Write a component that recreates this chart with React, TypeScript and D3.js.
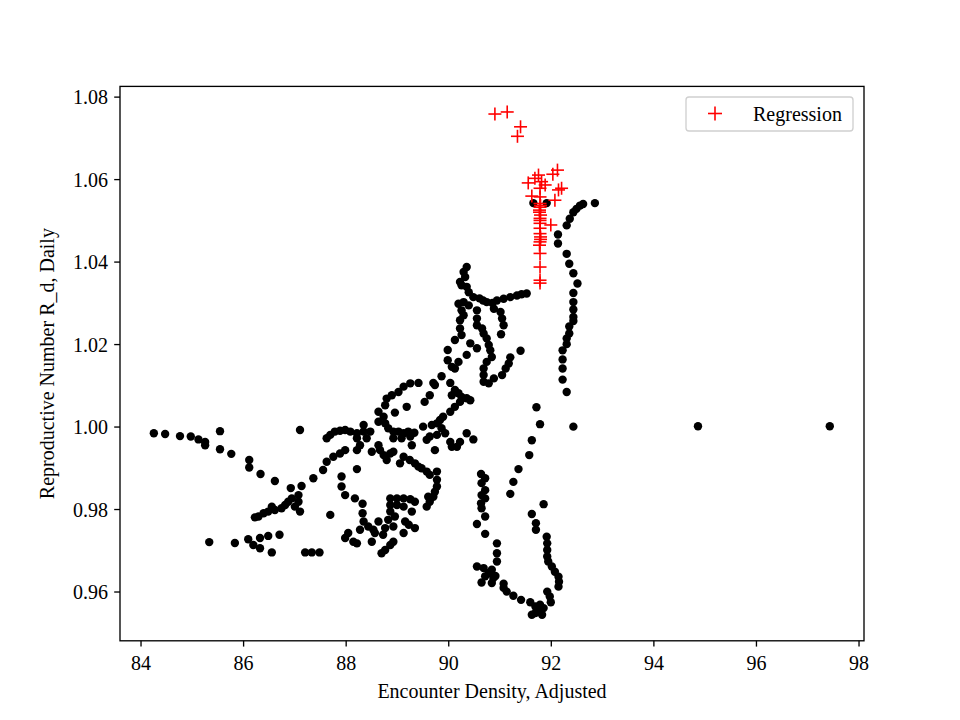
import React from "react";
import * as d3 from "d3";

const dotX = [
  84.25, 84.47, 84.76, 84.97, 85.12, 85.25, 85.25, 85.54, 85.54, 85.76, 86.11, 86.11, 86.33, 86.61, 86.92, 87.10,
  87.13, 87.07, 86.94, 86.87, 86.81, 87.00, 87.10, 86.74, 86.61, 86.55, 86.48, 86.39, 86.29, 86.22, 87.07,
  85.33, 85.83, 86.09, 86.19, 86.32, 86.32, 86.48, 86.55, 86.70,
  87.36, 87.55, 87.62, 87.75, 87.88, 87.98, 88.21, 88.27, 88.21, 87.62, 87.69, 87.78, 87.88, 87.98, 88.08, 88.21, 88.34, 88.40, 88.34,
  87.69, 87.20, 87.33, 87.48,
  87.91, 87.91, 87.98, 88.17, 88.32, 88.32, 88.34, 88.43, 88.63, 88.53, 88.56, 88.50, 88.27, 88.04, 87.98, 88.14, 88.21,
  88.72, 88.76, 88.82, 88.86, 88.86, 88.86, 88.99, 89.12, 89.25, 89.34, 89.28, 89.12, 88.99, 88.95, 89.15, 89.22, 89.34, 89.12, 88.92,
  88.92, 88.86, 88.76, 88.69, 88.21, 89.60,
  89.57, 89.63, 89.70, 89.73, 89.77, 89.77, 89.63, 89.77, 89.57, 89.47, 89.41, 89.34, 89.24, 89.12, 89.05, 88.92, 88.86, 88.79, 88.73,
  88.66, 88.63, 88.50, 89.28,
  88.47, 88.92, 89.02, 89.12, 89.21, 89.25, 89.08, 88.92, 89.33, 88.82, 88.76, 88.63, 88.73, 88.63, 88.76, 88.79, 88.89, 89.02, 89.12,
  89.25, 89.41, 88.95, 89.18, 89.70, 89.86, 90.03, 89.73, 89.63, 89.53, 90.06, 90.12, 90.03, 89.89, 89.83, 89.77, 89.67, 89.50, 89.86,
  89.93, 89.77, 89.63, 89.57, 90.03, 89.73, 90.16, 90.06,
  90.12, 90.19, 90.25, 90.35, 90.42, 90.22,
  89.98, 89.98, 90.06, 90.12, 90.19, 90.35, 90.42, 90.55, 90.12, 90.25, 90.22, 90.22, 90.29, 90.25, 90.19, 90.29, 90.39,
  90.35, 90.29, 90.32, 90.22, 90.25, 90.35, 90.39, 90.48, 90.60, 90.67, 90.74, 90.85, 90.94, 91.07, 91.20, 91.33, 91.42, 91.52,
  90.55, 90.55, 90.55, 90.65, 90.68, 90.74, 90.78, 90.81, 90.84, 90.74, 90.68, 90.68, 90.68, 90.78, 90.88, 91.04, 91.11, 91.17,
  91.20, 91.40, 90.88, 91.01, 91.04, 91.07, 91.02,
  91.65, 91.91, 92.85, 92.62, 92.56, 92.49, 92.43, 92.36, 92.30, 92.13, 92.13, 92.30, 92.35, 92.43, 92.51, 92.43, 92.43, 92.43,
  92.43, 92.43, 92.35, 92.35, 92.30, 92.30, 92.22, 92.22, 92.22, 92.22, 92.30, 91.71, 91.78, 92.43,
  91.62, 91.57, 91.36, 91.26, 91.20, 91.85, 91.62, 91.70, 91.70, 90.35, 90.48, 90.22,
  90.63, 90.71, 90.64, 90.71, 90.64, 90.71, 90.63, 90.64, 90.71, 90.55, 90.71, 90.94, 90.94, 90.94,
  90.55, 90.68, 90.78, 90.84, 90.71, 90.87, 90.64, 90.84, 90.91, 91.07, 91.07, 91.13, 91.26, 91.41, 91.59, 91.69, 91.75, 91.69,
  91.85, 91.82, 91.62, 91.78,
  91.91, 91.92, 91.92, 91.92, 91.94, 92.01, 92.07, 92.14, 92.15, 92.14, 91.92, 91.97, 91.99,
  94.86, 97.43,
];

const dotY = [
  0.9985, 0.9983, 0.9978, 0.9977, 0.9970, 0.9964, 0.9956, 0.9990, 0.9946, 0.9935, 0.9920, 0.9902, 0.9886, 0.9869, 0.9852, 0.9993,
  0.9857, 0.9835, 0.9827, 0.9819, 0.9811, 0.9807, 0.9795, 0.9803, 0.9799, 0.9807, 0.9795, 0.9791, 0.9783, 0.9781, 0.9819,
  0.9721, 0.9719, 0.9728, 0.9714, 0.9731, 0.9706, 0.9736, 0.9696, 0.9739,
  0.9876, 0.9896, 0.9916, 0.9928, 0.9936, 0.9944, 0.9944, 0.9956, 0.9973, 0.9973, 0.9981, 0.9989, 0.9991, 0.9993, 0.9989, 0.9985, 0.9989, 0.9973, 1.0005,
  0.9787, 0.9696, 0.9696, 0.9696,
  0.9880, 0.9856, 0.9835, 0.9827, 0.9814, 0.9791, 0.9771, 0.9759, 0.9771, 0.9751, 0.9743, 0.9722, 0.9751, 0.9743, 0.9731, 0.9722, 0.9718,
  0.9739, 0.9755, 0.9775, 0.9795, 0.9811, 0.9827, 0.9827, 0.9827, 0.9825, 0.9819, 0.9795, 0.9807, 0.9811, 0.9783, 0.9771, 0.9763, 0.9755, 0.9743, 0.9759,
  0.9722, 0.9714, 0.9702, 0.9694, 0.9898, 0.9831,
  0.9807, 0.9819, 0.9831, 0.9843, 0.9856, 0.9872, 0.9884, 0.9892, 0.9892, 0.9900, 0.9904, 0.9912, 0.9920, 0.9928, 0.9912, 0.9940, 0.9936, 0.9920, 0.9932,
  0.9944, 0.9956, 0.9940, 0.9956,
  0.9989, 0.9989, 0.9989, 0.9985, 0.9989, 0.9977, 0.9973, 0.9973, 0.9986, 0.9997, 1.0009, 1.0013, 1.0025, 1.0037, 1.0053, 1.0069, 1.0077, 1.0085, 1.0098,
  1.0106, 1.0107, 1.0035, 1.0049, 1.0107, 1.0123, 1.0107, 1.0102, 1.0077, 1.0061, 1.0077, 1.0049, 1.0037, 1.0025, 1.0017, 1.0009, 1.0005, 1.0001, 0.9997,
  0.9985, 0.9981, 0.9977, 0.9969, 0.9964, 0.9944, 0.9952, 0.9952,
  1.0090, 1.0082, 1.0073, 1.0070, 1.0065, 1.0061,
  1.0187, 1.0162, 1.0146, 1.0142, 1.0158, 1.0175, 1.0203, 1.0191, 1.0211, 1.0223, 1.0239, 1.0259, 1.0271, 1.0283, 1.0299, 1.0303, 1.0295,
  1.0388, 1.0376, 1.0364, 1.0352, 1.0344, 1.0340, 1.0327, 1.0315, 1.0312, 1.0307, 1.0303, 1.0301, 1.0307, 1.0311, 1.0315, 1.0319, 1.0322, 1.0324,
  1.0283, 1.0263, 1.0247, 1.0239, 1.0227, 1.0215, 1.0199, 1.0186, 1.0170, 1.0158, 1.0142, 1.0126, 1.0110, 1.0106, 1.0118, 1.0126, 1.0142, 1.0154,
  1.0169, 1.0185, 1.0287, 1.0279, 1.0263, 1.0247, 1.0225,
  1.0543, 1.0543, 1.0543, 1.0541, 1.0537, 1.0529, 1.0521, 1.0505, 1.0489, 1.0467, 1.0445, 1.0420, 1.0396, 1.0373, 1.0348, 1.0325, 1.0303, 1.0285,
  1.0267, 1.0257, 1.0244, 1.0227, 1.0215, 1.0201, 1.0186, 1.0164, 1.0142, 1.0115, 1.0085, 1.0048, 1.0007, 1.0001,
  0.9968, 0.9932, 0.9898, 0.9867, 0.9838, 0.9813, 0.9789, 0.9767, 0.9751, 0.9985, 0.9970, 0.9964,
  0.9886, 0.9876, 0.9864, 0.9847, 0.9835, 0.9827, 0.9815, 0.9803, 0.9783, 0.9765, 0.9741, 0.9718, 0.9694, 0.9674,
  0.9662, 0.9658, 0.9646, 0.9654, 0.9638, 0.9634, 0.9623, 0.9622, 0.9639, 0.9620, 0.9610, 0.9601, 0.9591, 0.9581, 0.9575, 0.9565, 0.9557, 0.9549,
  0.9561, 0.9545, 0.9545, 0.9569,
  0.9734, 0.9718, 0.9702, 0.9686, 0.9674, 0.9662, 0.9649, 0.9637, 0.9625, 0.9613, 0.9601, 0.9589, 0.9575,
  1.0002, 1.0002,
];

const regX = [
  90.90, 91.14, 91.40, 91.34, 92.12, 92.03, 91.75, 91.68, 91.55, 91.81, 91.88, 91.78, 92.14, 92.20, 91.62, 92.07, 91.78, 91.99,
  91.78, 91.77, 91.79, 91.78, 91.78, 91.78, 91.79, 91.78, 91.77, 91.78, 91.78, 91.78, 91.78,
  91.79, 91.78, 91.77, 91.78, 91.78, 91.79,
];
const regY = [
  1.0759, 1.0764, 1.0728, 1.0705, 1.0623, 1.0613, 1.0611, 1.0603, 1.0592, 1.0595, 1.0587, 1.0579, 1.0575, 1.0579, 1.0560, 1.0550, 1.0558, 1.0490,
  1.0542, 1.0526, 1.0514, 1.0506, 1.0482, 1.0469, 1.0461, 1.0449, 1.0441, 1.0421, 1.0388, 1.0356, 1.0349,
  1.0537, 1.0533, 1.0521, 1.0501, 1.0494, 1.0455,
];

const xTicks = [84, 86, 88, 90, 92, 94, 96, 98];
const yTicks = [0.96, 0.98, 1.0, 1.02, 1.04, 1.06, 1.08];

const W = 960, H = 720;
const L = 120, R = 864, T = 86.4, B = 640.8;
const FONT = "'Liberation Serif', 'Times New Roman', serif";
const FS = 20;

export default function App() {
  const x = d3.scaleLinear().domain([83.59, 98.097]).range([L, R]);
  const y = d3.scaleLinear().domain([0.94817, 1.0826]).range([B, T]);
  const cs = 6.5;
  return (
    <svg width={W} height={H} style={{ position: "absolute", left: 0, top: 0, background: "#fff" }} fontFamily={FONT}>
      <rect x={0} y={0} width={W} height={H} fill="#fff" />
      <g>
        {dotX.map((v, i) => (
          <circle key={"d" + i} cx={x(v)} cy={y(dotY[i])} r={4.2} fill="#000" />
        ))}
      </g>
      <g stroke="red" strokeWidth={1.6}>
        {regX.map((v, i) => {
          const px = x(v), py = y(regY[i]);
          return (
            <g key={"r" + i}>
              <line x1={px - cs} x2={px + cs} y1={py} y2={py} />
              <line x1={px} x2={px} y1={py - cs} y2={py + cs} />
            </g>
          );
        })}
      </g>
      <rect x={L} y={T} width={R - L} height={B - T} fill="none" stroke="#000" strokeWidth={1.33} />
      {xTicks.map((t) => (
        <g key={"xt" + t}>
          <line x1={x(t)} x2={x(t)} y1={B} y2={B + 5.8} stroke="#000" strokeWidth={1.33} />
          <text x={x(t)} y={B + 29} textAnchor="middle" fontSize={FS} fill="#000">{t}</text>
        </g>
      ))}
      {yTicks.map((t) => (
        <g key={"yt" + t}>
          <line x1={L - 5.8} x2={L} y1={y(t)} y2={y(t)} stroke="#000" strokeWidth={1.33} />
          <text x={L - 12} y={y(t)} dy="0.35em" textAnchor="end" fontSize={FS} fill="#000">{t.toFixed(2)}</text>
        </g>
      ))}
      <text x={(L + R) / 2} y={698} textAnchor="middle" fontSize={FS} fill="#000">Encounter Density, Adjusted</text>
      <text transform={`translate(54,${(T + B) / 2}) rotate(-90)`} textAnchor="middle" fontSize={FS} fill="#000">
        Reproductive Number R_d, Daily
      </text>
      <g>
        <rect x={686} y={97} width={167} height={34} rx={3} fill="#fff" fillOpacity={0.8} stroke="#d0d0d0" strokeWidth={1.33} />
        <line x1={708} x2={722} y1={113.5} y2={113.5} stroke="red" strokeWidth={1.6} />
        <line x1={715} x2={715} y1={106.5} y2={120.5} stroke="red" strokeWidth={1.6} />
        <text x={753} y={113.5} dy="0.35em" fontSize={FS} fill="#000">Regression</text>
      </g>
    </svg>
  );
}
